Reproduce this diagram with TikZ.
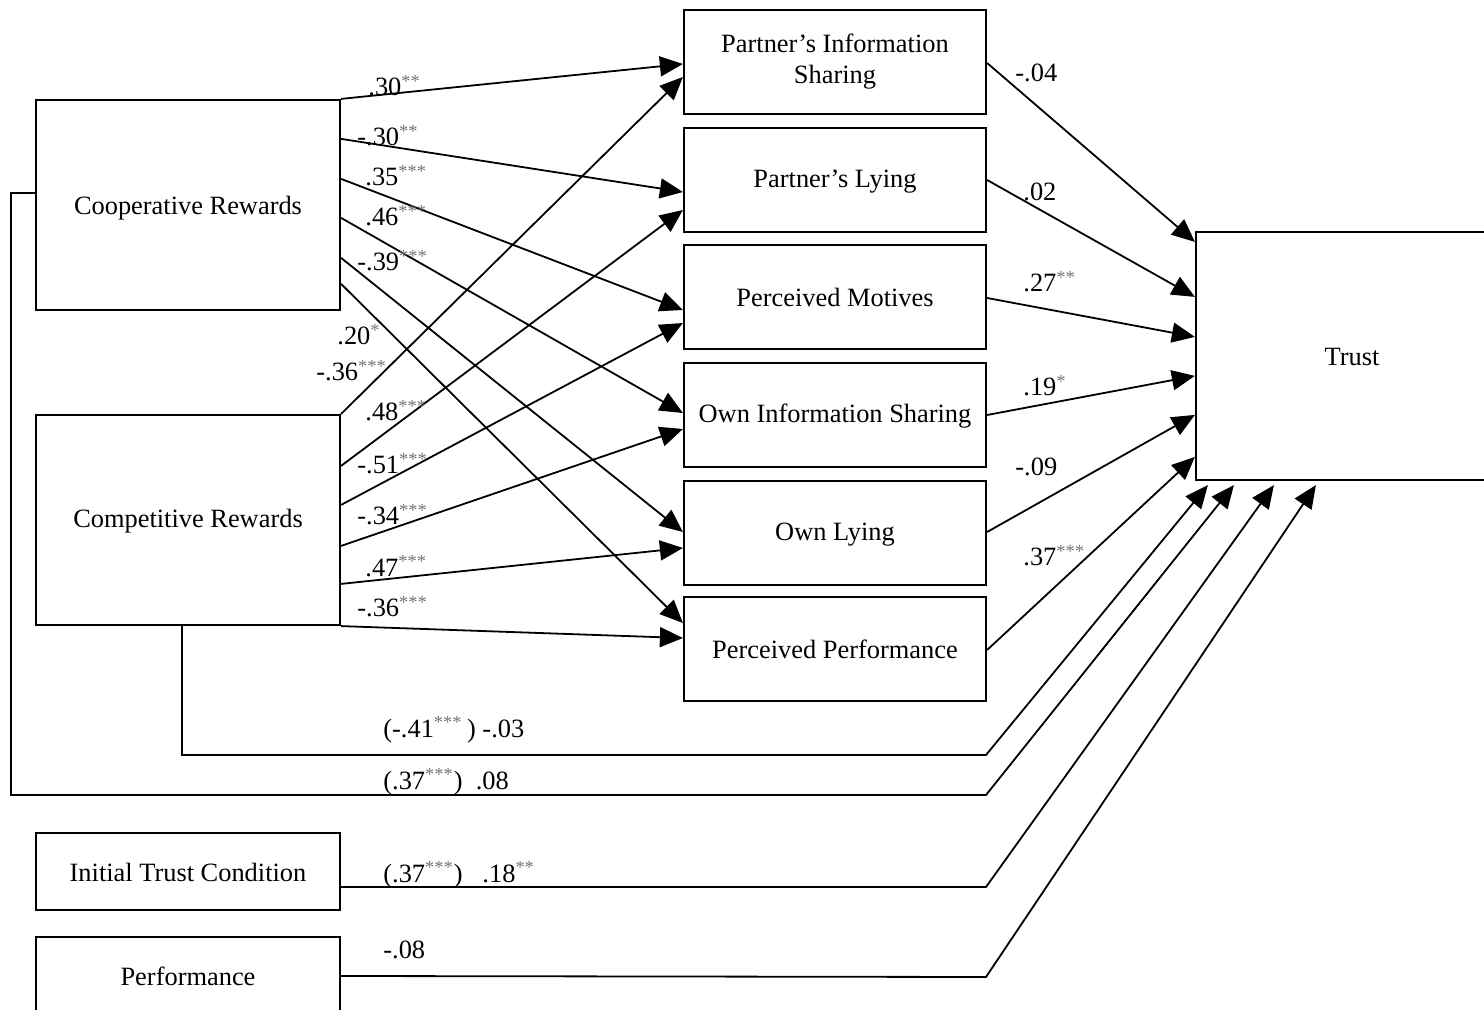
\documentclass[tikz,border=0pt]{standalone}
\usepackage{fontspec}
\setmainfont{Liberation Serif}
\usetikzlibrary{arrows.meta,calc}
\tikzset{>={Triangle[length=11.5pt,width=10pt]}}
\tikzset{var/.style={draw, line width=1.1pt, minimum width=152pt, minimum height=105pt, align=center, inner sep=0pt},
  mid/.style={var, minimum width=151pt, minimum height=52pt},
  link/.style={->, line width=0.9pt},
  coef/.style={anchor=base west, inner sep=0pt}}
\newcommand{\sig}[1]{\textsuperscript{\color{black!55}#1}}

\begin{document}
\begin{tikzpicture}[x=0.5pt,y=-0.5pt,font=\fontsize{13.2}{15.5}\selectfont]
\useasboundingbox (0,0) rectangle (1484,1010);
% exogenous variables
\node[var, text height=12pt] (coop) at (188,205) {Cooperative Rewards};
\node[var, text height=10pt] (comp) at (188,520) {Competitive Rewards};
\node[var, minimum height=38.5pt, text height=10pt] (init) at (188,871.5) {Initial Trust Condition};
\node[var, minimum height=39pt] (perf) at (188,976) {Performance};
% mediators
\node[mid] (pis) at (835,62) {Partner’s Information\\Sharing};
\node[mid, text height=10.5pt] (pl) at (835,180) {Partner’s Lying};
\node[mid] (pm) at (835,297) {Perceived Motives};
\node[mid, text height=10pt] (ois) at (835,415) {Own Information Sharing};
\node[mid, text height=10.5pt] (ol) at (835,533) {Own Lying};
\node[mid] (pp) at (835,649) {Perceived Performance};
% outcome
\node[var, minimum width=156pt, minimum height=124pt, text height=10pt] (trust) at (1352,356) {Trust};

% cooperative rewards paths
\draw[link] (coop.north east) -- ([yshift=-1pt]pis.west);
\draw[link] ([yshift=-20pt]coop.north east) -- ([yshift=-6pt]pl.west);
\draw[link] ([yshift=-40pt]coop.north east) -- ([yshift=-6.5pt]pm.west);
\draw[link] ([yshift=-59.5pt]coop.north east) -- ([yshift=1pt]ois.west);
\draw[link] ([yshift=-79.5pt]coop.north east) -- ([yshift=0.5pt]ol.west);
\draw[link] ([yshift=-92.5pt]coop.north east) -- ([yshift=13pt]pp.west);
% competitive rewards paths
\draw[link] (comp.north east) -- ([yshift=-7.5pt]pis.west);
\draw[link] ([yshift=-26pt]comp.north east) -- ([yshift=-15pt]pl.west);
\draw[link] ([yshift=-45.5pt]comp.north east) -- ([yshift=-13pt]pm.west);
\draw[link] ([yshift=-66pt]comp.north east) -- ([yshift=-7pt]ois.west);
\draw[link] ([yshift=-85pt]comp.north east) -- ([yshift=-7.5pt]ol.west);
\draw[link] (comp.south east) -- ([yshift=5.5pt]pp.west);
% mediators to trust
\draw[link] ([yshift=-0.5pt]pis.east) -- ([yshift=-5.5pt]trust.north west);
\draw[link] (pl.east) -- ([yshift=-33pt]trust.north west);
\draw[link] ([yshift=-0.5pt]pm.east) -- ([yshift=-53pt]trust.north west);
\draw[link] (ois.east) -- ([yshift=-72.5pt]trust.north west);
\draw[link] ([yshift=0.5pt]ol.east) -- ([yshift=-92pt]trust.north west);
\draw[link] ([yshift=-0.5pt]pp.east) -- ([yshift=-113pt]trust.north west);
% direct paths
\coordinate (compbend) at (986,755);
\coordinate (coopbend) at (986,795);
\coordinate (initbend) at (986,887);
\coordinate (perfbend) at (986,977);
\draw[link] ([xshift=-3pt]comp.south) |- (compbend) -- ([xshift=6.5pt,yshift=-2pt]trust.south west);
\draw[link] ([yshift=6pt]coop.west) -- ++(-24,0) |- (coopbend) -- ([xshift=19.5pt,yshift=-2pt]trust.south west);
\draw[link] ([yshift=-7.75pt]init.east) -- (initbend) -- ([xshift=39.5pt,yshift=-2pt]trust.south west);
\draw[link] (perf.east) -- (perfbend) -- ([xshift=60.5pt,yshift=-2pt]trust.south west);

% coefficients
\node[coef] (c1) at (368,96) {.30\sig{**}};
\node[coef] (c2) at (357,146) {-.30\sig{**}};
\node[coef] (c3) at (365,186) {.35\sig{***}};
\node[coef] (c4) at (365,226) {.46\sig{***}};
\node[coef] (c5) at (357,271) {-.39\sig{***}};
\node[coef] (c6) at (337,345) {.20\sig{*}};
\node[coef] (d1) at (316,381) {-.36\sig{***}};
\node[coef] (d2) at (365,421) {.48\sig{***}};
\node[coef] (d3) at (357,474) {-.51\sig{***}};
\node[coef] (d4) at (357,525) {-.34\sig{***}};
\node[coef] (d5) at (365,576) {.47\sig{***}};
\node[coef] (d6) at (357,617) {-.36\sig{***}};
\node[coef] (t1) at (1015,82) {-.04};
\node[coef] (t2) at (1023,201) {.02};
\node[coef] (t3) at (1023,292) {.27\sig{**}};
\node[coef] (t4) at (1023,396) {.19\sig{*}};
\node[coef] (t5) at (1015,476) {-.09};
\node[coef] (t6) at (1023,566) {.37\sig{***}};
\node[coef] (e1) at (383,737) {(-.41\sig{***}\,) -.03};
\node[coef] (e2) at (383,789) {(.37\sig{***})\ \ .08};
\node[coef] (e3) at (383,882) {(.37\sig{***})\ \ \ .18\sig{**}};
\node[coef] (e4) at (383,958) {-.08};
\end{tikzpicture}
\end{document}
